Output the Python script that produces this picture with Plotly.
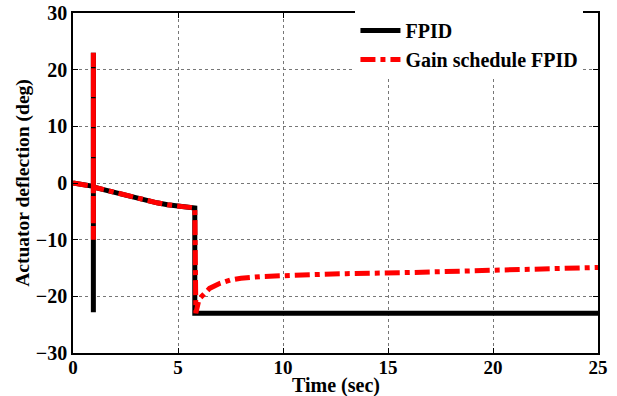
import plotly.graph_objects as go

# FPID (black)
t_fpid = [0, 0.5, 0.97, 0.97, 0.97, 0.97, 1.5, 2, 2.5, 3, 3.5, 4, 4.5, 5, 5.4, 5.8, 5.8, 25]
y_fpid = [0, -0.2, -0.6, -22.8, 23, -0.7, -1.2, -1.7, -2.2, -2.7, -3.1, -3.5, -3.85, -4.1, -4.3, -4.4, -23, -23]

# Gain schedule FPID (red)
t_gs = [0, 0.5, 0.97, 0.97, 0.97, 0.97, 1.5, 2, 2.5, 3, 3.5, 4, 4.5, 5, 5.4, 5.8, 5.85,
        6.0, 6.5, 7, 7.5, 8, 9, 10, 11, 12, 13, 14, 15, 16, 17, 18, 19, 20, 21, 22, 23, 24, 25]
y_gs = [0, -0.2, -0.6, 23, -10, -0.7, -1.2, -1.7, -2.2, -2.7, -3.1, -3.5, -3.85, -4.1, -4.3, -4.4, -23,
        -20.5, -18.6, -17.7, -17.1, -16.8, -16.5, -16.3, -16.2, -16.1, -16.0, -16.0, -15.9, -15.8,
        -15.7, -15.6, -15.5, -15.4, -15.3, -15.2, -15.1, -15.0, -14.9]

x_ticks = [0, 5, 10, 15, 20, 25]
y_ticks = [-30, -20, -10, 0, 10, 20, 30]

FONT = "Liberation Serif"

fig = go.Figure()
fig.add_trace(go.Scatter(x=t_fpid, y=y_fpid, mode="lines", name="FPID",
                         line=dict(color="black", width=5)))
fig.add_trace(go.Scatter(x=t_gs, y=y_gs, mode="lines", name="Gain schedule FPID",
                         line=dict(color="#ff0000", width=5, dash="dashdot")))

axis_common = dict(
    showline=True, linecolor="black", linewidth=1.5, mirror="ticks",
    ticks="inside", ticklen=5, tickcolor="black", tickwidth=1,
    showgrid=True, gridcolor="#777777", gridwidth=1, griddash="dot",
    zeroline=False, automargin=False,
)

fig.update_layout(
    width=617, height=396,
    margin=dict(l=73, r=19, t=12, b=43),
    plot_bgcolor="white", paper_bgcolor="white",
    xaxis=dict(range=[0, 25], tickvals=x_ticks, **axis_common, ticklabelstandoff=-4,
               tickfont=dict(family=FONT, size=19, color="black", weight="bold")),
    yaxis=dict(range=[-30, 30], tickvals=y_ticks, **axis_common,
               tickfont=dict(family=FONT, size=20, color="black", weight="bold"),
               title=dict(text="Actuator deflection (deg)", standoff=1,
                          font=dict(family=FONT, size=19.5, color="black", weight="bold"))),
    legend=dict(x=0.538, y=1.003, xanchor="left", yanchor="top",
                bgcolor="white", borderwidth=0,
                font=dict(family=FONT, size=20, color="black", weight="bold"),
                tracegroupgap=0, itemwidth=40),
    showlegend=True,
)

fig.add_annotation(text="Time (sec)", xref="paper", yref="paper", x=0.5, y=-(386 - 353) / 341,
                   xanchor="center", yanchor="middle", showarrow=False,
                   font=dict(family=FONT, size=20, color="black", weight="bold"))

fig.write_html("out.html")
